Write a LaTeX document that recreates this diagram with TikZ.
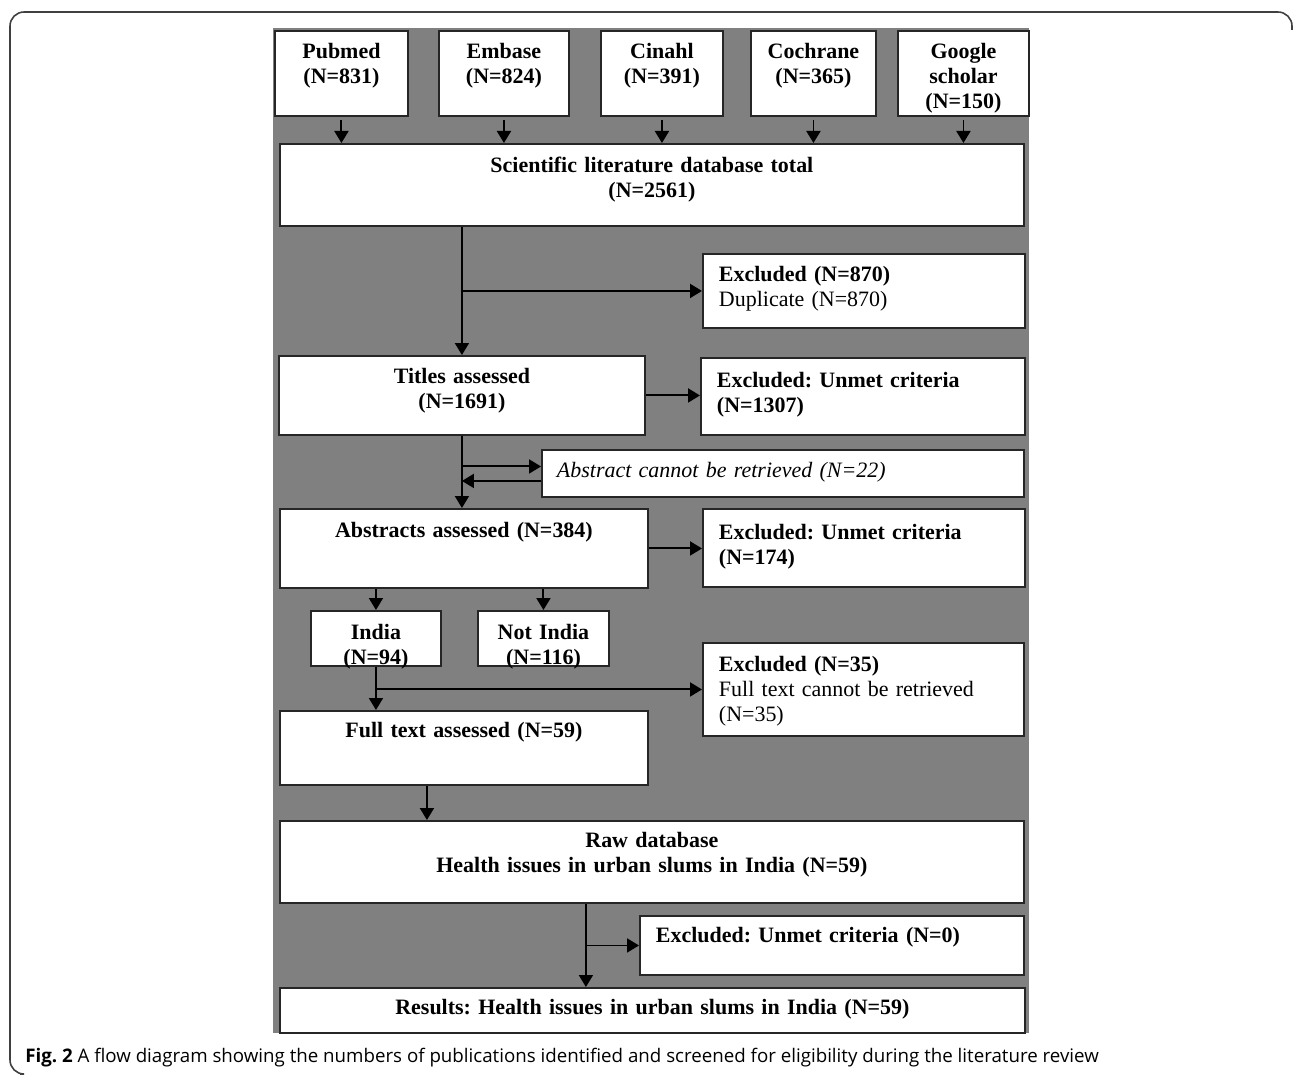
\documentclass[tikz,border=0pt]{standalone}
\usepackage{fontspec}
\setmainfont{Liberation Serif}
\newfontfamily\captionfont{Open Sans}
\usetikzlibrary{arrows.meta}
\frenchspacing

\begin{document}
\begin{tikzpicture}[
    x=0.02cm, y=-0.02cm,
    % Common box look
    box/.style={
        draw=black!85,
        line width=1.1pt,
        fill=white,
        anchor=north west,
        inner ysep=0pt,
        font=\fontsize{12.5}{14}\selectfont
    },
    % Main stages, centred bold text
    stage/.style={
        box,
        inner xsep=0pt,
        align=center,
        font=\fontsize{12.5}{14}\selectfont\bfseries
    },
    % Side boxes, left aligned text
    side/.style={
        box,
        inner xsep=0.32cm,
        align=left
    },
    % Connectors
    flow/.style={
        line width=1.1pt,
        -{Triangle[length=0.24cm,width=0.28cm]}
    }
]
    \useasboundingbox (0,0) rectangle (1293,1077);

    % Frame and grey panel
    \draw[black!75, line width=0.9pt, rounded corners=8pt] (1292,30) |- (10,12) |- (20,1074);
    \fill[black!50] (273,28) rectangle (1029,1033);

    % Databases
    \node[stage, text width=2.66cm, text height=0.56cm, text depth=1.14cm] (pubmed) at (274,30) {Pubmed\\(N=831)};
    \node[stage, text width=2.6cm, text height=0.56cm, text depth=1.14cm] (embase) at (438,30) {Embase\\(N=824)};
    \node[stage, text width=2.44cm, text height=0.56cm, text depth=1.14cm] (cinahl) at (600,30) {Cinahl\\(N=391)};
    \node[stage, text width=2.5cm, text height=0.56cm, text depth=1.14cm] (cochrane) at (750,30) {Cochrane\\(N=365)};
    \node[stage, text width=2.62cm, text height=0.56cm, text depth=1.14cm] (scholar) at (897,30) {Google\\scholar\\(N=150)};

    % Total
    \node[stage, text width=14.88cm, text height=0.58cm, text depth=1.06cm] (total) at (279,143) {Scientific literature database total\\(N=2561)};

    % Screening
    \node[side, text width=5.8cm, text height=0.56cm, text depth=0.92cm] (excl870) at (702,253) {\textbf{Excluded (N=870)}\\Duplicate (N=870)};
    \node[stage, text width=7.32cm, text height=0.56cm, text depth=1.02cm] (titles) at (278,355) {Titles assessed\\(N=1691)};
    \node[side, text width=5.84cm, text height=0.6cm, text depth=0.94cm] (excl1307) at (700,357) {\textbf{Excluded: Unmet criteria}\\\textbf{(N=1307)}};
    \node[side, inner xsep=0.3cm, text width=9.04cm, text height=0.56cm, text depth=0.38cm] (absno) at (541,449) {\textit{Abstract cannot be retrieved (N=22)}};
    \node[stage, text width=7.36cm, text height=0.58cm, text depth=1.0cm] (abstracts) at (279,508) {Abstracts assessed (N=384)};
    \node[side, text width=5.8cm, text height=0.62cm, text depth=0.94cm] (excl174) at (702,508) {\textbf{Excluded: Unmet criteria}\\\textbf{(N=174)}};

    % Country split
    \node[stage, text width=2.6cm, text height=0.58cm, text depth=0.52cm] (india) at (310,610) {India\\(N=94)};
    \node[stage, text width=2.62cm, text height=0.58cm, text depth=0.52cm] (notindia) at (477,610) {Not India\\(N=116)};
    \node[side, text width=5.78cm, text height=0.58cm, text depth=1.28cm] (excl35) at (702,642) {\textbf{Excluded (N=35)}\\Full text cannot be retrieved\\(N=35)};

    % Final stages
    \node[stage, text width=7.36cm, text height=0.54cm, text depth=0.94cm] (full) at (279,710) {Full text assessed (N=59)};
    \node[stage, text width=14.88cm, text height=0.54cm, text depth=1.1cm] (raw) at (279,820) {Raw database\\Health issues in urban slums in India (N=59)};
    \node[side, text width=7.04cm, text height=0.54cm, text depth=0.64cm] (excl0) at (639,915) {\textbf{Excluded: Unmet criteria (N=0)}};
    \node[stage, text width=14.9cm, text height=0.54cm, text depth=0.36cm] (results) at (279,987) {Results: Health issues in urban slums in India (N=59)};

    % Caption
    \node[anchor=base west, inner sep=0pt, font=\captionfont\fontsize{10.65}{12}\selectfont] (caption) at (25,1062) {\textbf{Fig. 2} A flow diagram showing the numbers of publications identified and screened for eligibility during the literature review};

    % Connectors
    \foreach \src in {pubmed,embase,cinahl,cochrane,scholar}
        \draw[flow] ([yshift=-0.06cm]\src.south) -- (\src.south |- total.north);
    \draw[flow] (titles.north |- total.south) -- (titles.north);
    \draw[flow] (titles.north |- excl870.west) -- (excl870.west);
    \draw[flow] (titles.east) -- (titles.east -| excl1307.west);
    \draw[flow] (titles.south) -- (titles.south |- abstracts.north);
    \coordinate (split) at (titles.south |- absno.west);
    \draw[flow] ([yshift=0.14cm]split) -- ([yshift=0.14cm]absno.west);
    \draw[flow] ([yshift=-0.15cm]absno.west) -- ([yshift=-0.15cm]split);
    \draw[flow] (abstracts.east) -- (abstracts.east -| excl174.west);
    \draw[flow] (india.north |- abstracts.south) -- (india.north);
    \draw[flow] (notindia.north |- abstracts.south) -- (notindia.north);
    \draw[flow] (india.south) -- (india.south |- full.north);
    \draw[flow] (india.south |- excl35.west) -- (excl35.west);
    \coordinate (fullout) at ([xshift=-0.74cm]full.south);
    \draw[flow] (fullout) -- (fullout |- raw.north);
    \coordinate (rawout) at ([xshift=-1.32cm]raw.south);
    \draw[flow] (rawout) -- (rawout |- results.north);
    \draw[flow] (rawout |- excl0.west) -- (excl0.west);
\end{tikzpicture}
\end{document}
